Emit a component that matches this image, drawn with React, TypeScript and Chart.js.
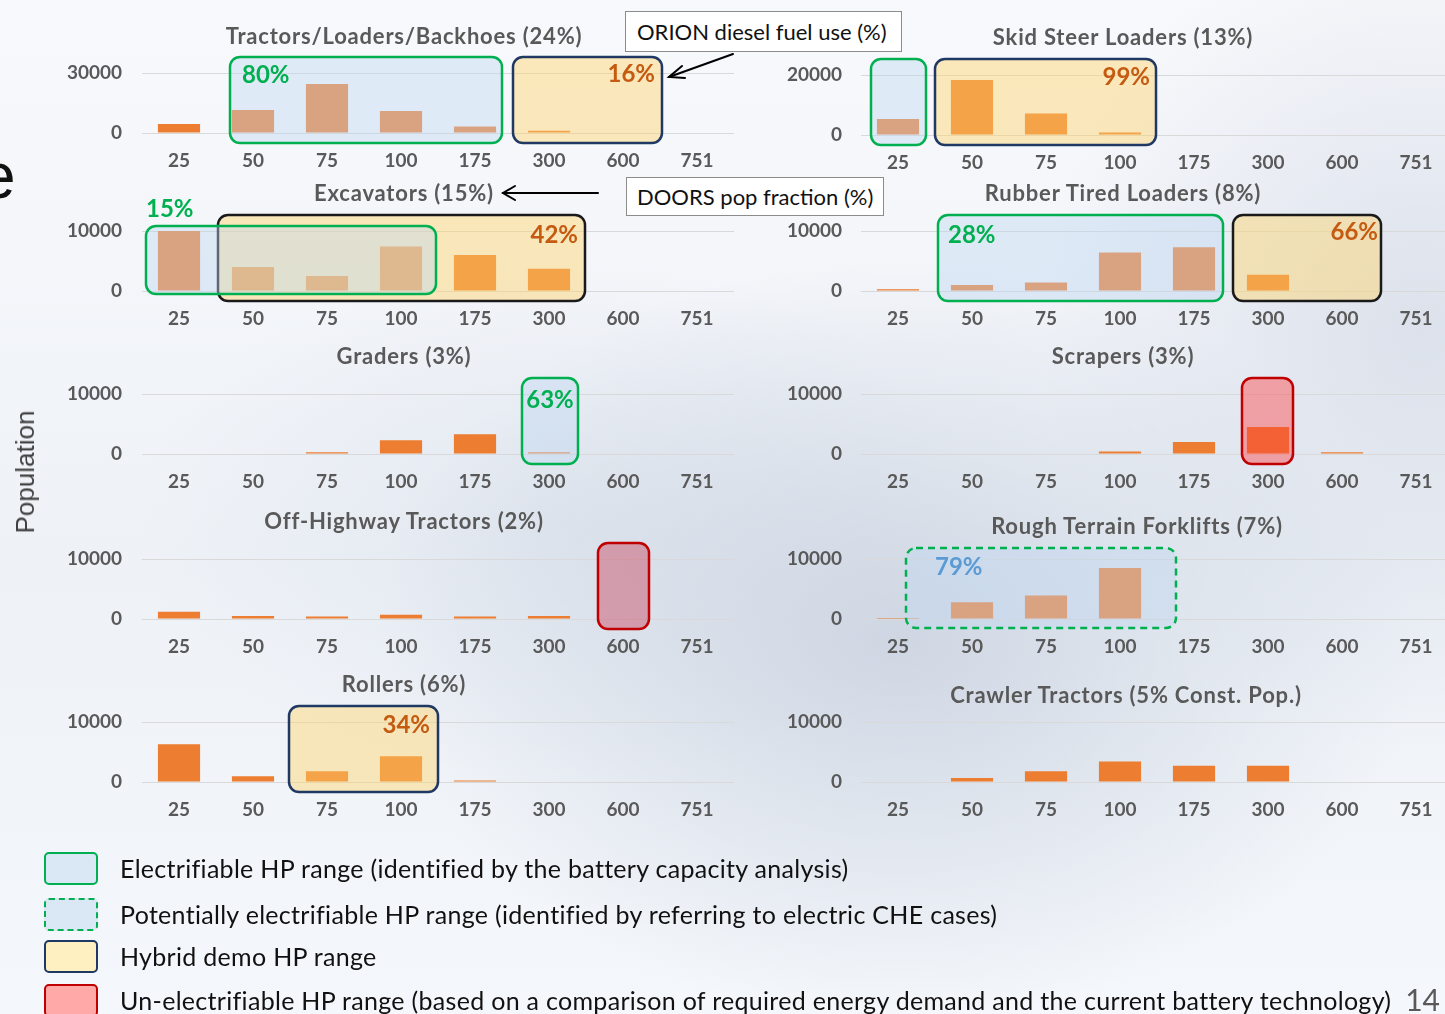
import React, { useEffect, useRef } from 'react';
import { Chart, registerables } from 'chart.js';

Chart.register(...registerables);

// Horsepower bins shared by every panel
const hpBins = ['25', '50', '75', '100', '175', '300', '600', '751'];

// Equipment population per HP bin
const tractorsLoadersBackhoes = [4500, 11500, 24500, 11000, 3200, 1100, 0, 0];
const skidSteerLoaders = [5300, 18300, 7200, 800, 0, 0, 0, 0];
const excavators = [10000, 4000, 2500, 7400, 6000, 3700, 0, 0];
const rubberTiredLoaders = [300, 1000, 1400, 6400, 7300, 2700, 0, 0];
const graders = [0, 0, 300, 2300, 3300, 300, 0, 0];
const scrapers = [0, 0, 0, 400, 2000, 4500, 300, 0];
const offHighwayTractors = [1200, 500, 400, 700, 400, 500, 0, 0];
const roughTerrainForklifts = [150, 2800, 3900, 8500, 0, 0, 0, 0];
const rollers = [6300, 950, 1800, 4300, 250, 0, 0, 0];
const crawlerTractors = [0, 650, 1800, 3400, 2700, 2700, 0, 0];

// Axis maxima (single labelled gridline per panel)
const axisMax = [30000, 20000, 10000, 10000, 10000, 10000, 10000, 10000, 10000, 10000];

const FONT = 'Lato, "Noto Sans", sans-serif';
const GREEN = '#00B050';
const ORANGE_TXT = '#C55A11';
const BLUE_TXT = '#5B9BD5';
const BAR = '#ED7D31';
const AXIS_TXT = '#595959';

type BoxKind = 'electric' | 'potential' | 'hybrid' | 'hybridDark' | 'unelectric' | 'unelectricMuted';

interface RangeBox {
  from: string;
  to: string;
  kind: BoxKind;
  padL: number;
  padR: number;
  padTop?: number;
  padBottom?: number;
  label?: string;
  labelColor?: string;
  labelAlign?: 'left' | 'right' | 'center';
  labelDx?: number;
  labelDy?: number;
}

const boxStyles: Record<BoxKind, { fill: string; stroke: string; dash: number[] }> = {
  electric: { fill: 'rgba(190,215,240,0.42)', stroke: GREEN, dash: [] },
  potential: { fill: 'rgba(190,215,240,0.42)', stroke: GREEN, dash: [7, 5] },
  hybrid: { fill: 'rgba(255,212,105,0.44)', stroke: '#1F3864', dash: [] },
  hybridDark: { fill: 'rgba(255,212,105,0.44)', stroke: '#1A1A1A', dash: [] },
  unelectric: { fill: 'rgba(255,60,60,0.42)', stroke: '#C00000', dash: [] },
  unelectricMuted: { fill: 'rgba(200,60,85,0.42)', stroke: '#C00000', dash: [] },
};

interface Panel {
  title: string;
  values: number[];
  yMax: number;
  column: 0 | 1;
  gridTop: number;
  titleX: number;
  titleY: number;
  boxes: RangeBox[];
}

const panels: Panel[] = [
  {
    title: 'Tractors/Loaders/Backhoes (24%)', values: tractorsLoadersBackhoes, yMax: axisMax[0],
    column: 0, gridTop: 73, titleX: 404, titleY: 36,
    boxes: [
      { from: '50', to: '175', kind: 'electric', padL: 23, padR: 27, label: '80%', labelColor: GREEN, labelAlign: 'left', labelDx: 12, labelDy: 18 },
      { from: '300', to: '600', kind: 'hybrid', padL: 36, padR: 39, label: '16%', labelColor: ORANGE_TXT, labelAlign: 'right', labelDx: -7, labelDy: 17 },
    ],
  },
  {
    title: 'Skid Steer Loaders (13%)', values: skidSteerLoaders, yMax: axisMax[1],
    column: 1, gridTop: 75, titleX: 1123, titleY: 37,
    boxes: [
      { from: '25', to: '25', kind: 'electric', padL: 27, padR: 28 },
      { from: '50', to: '100', kind: 'hybrid', padL: 37, padR: 36, label: '99%', labelColor: ORANGE_TXT, labelAlign: 'right', labelDx: -6, labelDy: 18 },
    ],
  },
  {
    title: 'Excavators (15%)', values: excavators, yMax: axisMax[2],
    column: 0, gridTop: 231, titleX: 404, titleY: 193,
    boxes: [
      { from: '50', to: '300', kind: 'hybridDark', padL: 35, padR: 36, label: '42%', labelColor: ORANGE_TXT, labelAlign: 'right', labelDx: -7, labelDy: 20 },
      { from: '25', to: '100', kind: 'electric', padL: 33, padR: 35, padTop: 5, padBottom: 3, label: '15%', labelColor: GREEN, labelAlign: 'left', labelDx: 0, labelDy: -17 },
    ],
  },
  {
    title: 'Rubber Tired Loaders (8%)', values: rubberTiredLoaders, yMax: axisMax[3],
    column: 1, gridTop: 231, titleX: 1123, titleY: 193,
    boxes: [
      { from: '50', to: '175', kind: 'electric', padL: 34, padR: 29, label: '28%', labelColor: GREEN, labelAlign: 'left', labelDx: 10, labelDy: 20 },
      { from: '300', to: '600', kind: 'hybridDark', padL: 35, padR: 39, label: '66%', labelColor: ORANGE_TXT, labelAlign: 'right', labelDx: -3, labelDy: 17 },
    ],
  },
  {
    title: 'Graders (3%)', values: graders, yMax: axisMax[4],
    column: 0, gridTop: 394, titleX: 404, titleY: 356,
    boxes: [
      { from: '300', to: '300', kind: 'electric', padL: 27, padR: 29, label: '63%', labelColor: GREEN, labelAlign: 'center', labelDx: 0, labelDy: 22 },
    ],
  },
  {
    title: 'Scrapers (3%)', values: scrapers, yMax: axisMax[5],
    column: 1, gridTop: 394, titleX: 1123, titleY: 356,
    boxes: [{ from: '300', to: '300', kind: 'unelectric', padL: 26, padR: 25 }],
  },
  {
    title: 'Off-Highway Tractors (2%)', values: offHighwayTractors, yMax: axisMax[6],
    column: 0, gridTop: 559, titleX: 404, titleY: 521,
    boxes: [{ from: '600', to: '600', kind: 'unelectricMuted', padL: 25, padR: 26 }],
  },
  {
    title: 'Rough Terrain Forklifts (7%)', values: roughTerrainForklifts, yMax: axisMax[7],
    column: 1, gridTop: 559, titleX: 1137, titleY: 526,
    boxes: [
      { from: '50', to: '100', kind: 'potential', padL: 66, padR: 56, padTop: 11, padBottom: 9, label: '79%', labelColor: BLUE_TXT, labelAlign: 'left', labelDx: 29, labelDy: 19 },
    ],
  },
  {
    title: 'Rollers (6%)', values: rollers, yMax: axisMax[8],
    column: 0, gridTop: 722, titleX: 404, titleY: 684,
    boxes: [
      { from: '75', to: '100', kind: 'hybrid', padL: 38, padR: 37, label: '34%', labelColor: ORANGE_TXT, labelAlign: 'right', labelDx: -8, labelDy: 19 },
    ],
  },
  {
    title: 'Crawler Tractors (5% Const. Pop.)', values: crawlerTractors, yMax: axisMax[9],
    column: 1, gridTop: 722, titleX: 1126, titleY: 695,
    boxes: [],
  },
];

const legendItems: { kind: BoxKind; text: string; top: number }[] = [
  { kind: 'electric', text: 'Electrifiable HP range (identified by the battery capacity analysis)', top: 852 },
  { kind: 'potential', text: 'Potentially electrifiable HP range (identified by referring to electric CHE cases)', top: 898 },
  { kind: 'hybrid', text: 'Hybrid demo HP range', top: 940 },
  { kind: 'unelectric', text: 'Un-electrifiable HP range (based on a comparison of required energy demand and the current battery technology)', top: 984 },
];

const legendSwatch: Record<string, { fill: string; border: string }> = {
  electric: { fill: '#DAE8F5', border: `2.5px solid ${GREEN}` },
  potential: { fill: '#DAE8F5', border: `2.5px dashed ${GREEN}` },
  hybrid: { fill: '#FFF0C2', border: '2.5px solid #1F3864' },
  unelectric: { fill: '#FFA9A9', border: '2.5px solid #C00000' },
};

const PAD_TOP = 40;
const PLOT_H = 60;
const XAXIS_H = 50;

// Draws the shaded HP-range boxes over the bars, then their percentage labels
function rangeBoxPlugin(boxes: RangeBox[]) {
  return {
    id: 'rangeBoxes',
    afterDatasetsDraw(chart: any) {
      const { ctx, scales } = chart;
      const x = scales.x;
      const y = scales.y;
      const geom = boxes.map((b) => {
        const left = x.getPixelForValue(hpBins.indexOf(b.from)) - b.padL;
        const right = x.getPixelForValue(hpBins.indexOf(b.to)) + b.padR;
        const top = y.top - (b.padTop ?? 16);
        const bottom = y.bottom + (b.padBottom ?? 10);
        return { left, right, top, bottom };
      });
      ctx.save();
      boxes.forEach((b, i) => {
        const g = geom[i];
        const st = boxStyles[b.kind];
        ctx.beginPath();
        ctx.roundRect(g.left, g.top, g.right - g.left, g.bottom - g.top, 10);
        ctx.fillStyle = st.fill;
        ctx.fill();
        ctx.setLineDash(st.dash);
        ctx.lineWidth = 2.5;
        ctx.strokeStyle = st.stroke;
        ctx.stroke();
      });
      ctx.setLineDash([]);
      boxes.forEach((b, i) => {
        if (!b.label) return;
        const g = geom[i];
        ctx.font = `bold 24px ${FONT}`;
        ctx.fillStyle = b.labelColor || '#000';
        ctx.textBaseline = 'middle';
        let tx = g.left;
        if (b.labelAlign === 'right') {
          ctx.textAlign = 'right';
          tx = g.right;
        } else if (b.labelAlign === 'center') {
          ctx.textAlign = 'center';
          tx = (g.left + g.right) / 2;
        } else {
          ctx.textAlign = 'left';
        }
        ctx.fillText(b.label, tx + (b.labelDx || 0), g.top + (b.labelDy || 0));
      });
      ctx.restore();
    },
  };
}

function PanelChart({ panel }: { panel: Panel }) {
  const ref = useRef<HTMLCanvasElement>(null);
  const left = panel.column === 0 ? 30 : 750;
  const width = panel.column === 0 ? 710 : 703;
  const height = PAD_TOP + PLOT_H + XAXIS_H;

  useEffect(() => {
    const canvas = ref.current;
    if (!canvas) return;
    const tickFont = { family: FONT, size: 19, weight: 'bold' as const };
    const chart = new Chart(canvas, {
      type: 'bar',
      data: {
        labels: hpBins,
        datasets: [
          {
            data: panel.values,
            backgroundColor: BAR,
            barPercentage: 0.57,
            categoryPercentage: 1,
          },
        ],
      },
      options: {
        responsive: false,
        maintainAspectRatio: false,
        animation: false,
        layout: { padding: { top: PAD_TOP, right: panel.column === 0 ? 6 : 0, left: 0, bottom: 0 } },
        plugins: {
          legend: { display: false },
          tooltip: { enabled: false },
          title: { display: false },
        },
        scales: {
          x: {
            grid: { display: false, drawTicks: false },
            border: { display: false },
            ticks: { color: AXIS_TXT, font: tickFont, padding: 16, maxRotation: 0, autoSkip: false },
            afterFit: (s: any) => {
              s.height = XAXIS_H;
            },
          },
          y: {
            min: 0,
            max: panel.yMax,
            grid: { color: '#D9D9D9', drawTicks: false, lineWidth: 1 },
            border: { display: false },
            ticks: {
              stepSize: panel.yMax,
              color: AXIS_TXT,
              font: tickFont,
              padding: panel.column === 0 ? 20 : 19,
              callback: (v: any) => String(v),
            },
            afterFit: (s: any) => {
              s.width = panel.column === 0 ? 112 : 111;
            },
          },
        },
      },
      plugins: [rangeBoxPlugin(panel.boxes)],
    });
    return () => chart.destroy();
  }, [panel]);

  return (
    <canvas
      ref={ref}
      width={width}
      height={height}
      style={{ position: 'absolute', left, top: panel.gridTop - PAD_TOP, width, height }}
    />
  );
}

export default function App() {
  return (
    <div
      style={{
        position: 'absolute',
        left: 0,
        top: 0,
        width: 1445,
        height: 1014,
        overflow: 'hidden',
        fontFamily: FONT,
        background:
          'radial-gradient(ellipse 520px 380px at 900px 640px, rgba(196,205,220,0.75), rgba(196,205,220,0) 100%),' +
          'radial-gradient(ellipse 380px 420px at 1420px 330px, rgba(205,212,226,0.6), rgba(205,212,226,0) 100%),' +
          'radial-gradient(ellipse 420px 260px at 560px 520px, rgba(214,221,233,0.5), rgba(214,221,233,0) 100%),' +
          'linear-gradient(180deg, #f8f9fc 0%, #eef2f7 55%, #f4f7fb 100%)',
      }}
    >
      {/* cut-off slide heading letter */}
      <div
        style={{
          position: 'absolute', left: -20, top: 144, width: 34, textAlign: 'right',
          fontFamily: '"Liberation Sans", Arial, sans-serif', fontSize: 64, lineHeight: '64px', color: '#111',
        }}
      >
        e
      </div>

      {panels.map((p, i) => (
        <PanelChart key={i} panel={p} />
      ))}

      {panels.map((p, i) => (
        <div
          key={'t' + i}
          style={{
            position: 'absolute', left: p.titleX, top: p.titleY, transform: 'translate(-50%, -50%)',
            whiteSpace: 'nowrap', fontSize: 22, letterSpacing: 0.8, fontWeight: 700, color: AXIS_TXT, lineHeight: 1,
          }}
        >
          {p.title}
        </div>
      ))}

      {/* y-axis caption */}
      <div
        style={{
          position: 'absolute', left: 25, top: 472, transform: 'translate(-50%, -50%) rotate(-90deg)',
          whiteSpace: 'nowrap', fontFamily: '"Liberation Sans", Arial, sans-serif', fontSize: 26, color: '#404040', lineHeight: 1,
        }}
      >
        Population
      </div>

      {/* callouts */}
      <div
        style={{
          position: 'absolute', left: 625, top: 11, width: 277, height: 41, boxSizing: 'border-box',
          border: '1.5px solid #8C8C8C', background: '#FFFFFF', fontSize: 22, color: '#111',
          display: 'flex', alignItems: 'center', paddingLeft: 11, whiteSpace: 'nowrap',
        }}
      >
        ORION diesel fuel use (%)
      </div>
      <div
        style={{
          position: 'absolute', left: 626, top: 177, width: 258, height: 39, boxSizing: 'border-box',
          border: '1.5px solid #8C8C8C', background: '#FFFFFF', fontSize: 22, color: '#111',
          display: 'flex', alignItems: 'center', paddingLeft: 10, whiteSpace: 'nowrap',
        }}
      >
        DOORS pop fraction (%)
      </div>
      <svg width={1445} height={1014} style={{ position: 'absolute', left: 0, top: 0, pointerEvents: 'none' }}>
        <g stroke="#000" strokeWidth={2} fill="none" strokeLinecap="round">
          <line x1={733} y1={54} x2={669} y2={77} />
          <polyline points="682,66 669,77 685,78" />
          <line x1={598} y1={193} x2={503} y2={193} />
          <polyline points="515,186 503,193 515,200" />
        </g>
      </svg>

      {/* legend */}
      {legendItems.map((it, i) => (
        <React.Fragment key={'l' + i}>
          <div
            style={{
              position: 'absolute', left: 44, top: it.top, width: 54, height: 33, boxSizing: 'border-box',
              background: legendSwatch[it.kind].fill, border: legendSwatch[it.kind].border, borderRadius: 5,
            }}
          />
          <div
            style={{
              position: 'absolute', left: 120, top: it.top + 16, transform: 'translateY(-50%)',
              whiteSpace: 'nowrap', fontSize: 25, letterSpacing: 0.3, color: '#111', lineHeight: 1,
            }}
          >
            {it.text}
          </div>
        </React.Fragment>
      ))}

      <div
        style={{
          position: 'absolute', right: 5, top: 984, fontSize: 30, color: '#595959', lineHeight: 1,
        }}
      >
        14
      </div>
    </div>
  );
}
